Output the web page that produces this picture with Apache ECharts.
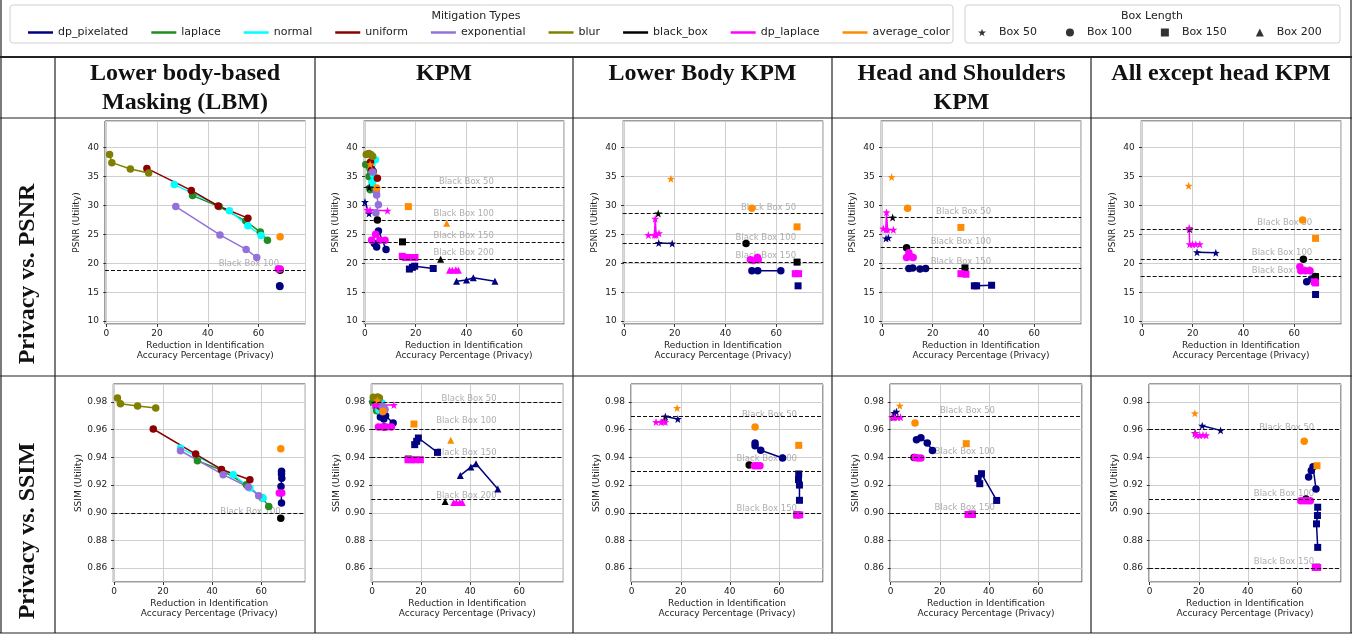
<!DOCTYPE html>
<html><head><meta charset="utf-8">
<script src="https://cdn.jsdelivr.net/npm/echarts@6/dist/echarts.min.js"></script>
<style>html,body{margin:0;padding:0;background:#fff}#chart{width:1367px;height:635px}</style>
</head><body><div id="chart"></div><script>
// ---- Legend / category definitions ----
const methods = ['dp_pixelated','laplace','normal','uniform','exponential','blur','black_box','dp_laplace','average_color'];
const methodColors = ['#000080','#228b22','#00ffff','#8b0000','#9370db','#808000','#000000','#ff00ff','#ff8c00'];
const boxLabels = ['Box 50','Box 100','Box 150','Box 200'];
const columnTitles = [['Lower body-based','Masking (LBM)'],['KPM'],['Lower Body KPM'],['Head and Shoulders','KPM'],['All except head KPM']];
const rowTitles = ['Privacy vs. PSNR','Privacy vs. SSIM'];
const yAxisNames = ['PSNR (Utility)','SSIM (Utility)'];
const xAxisName = 'Reduction in Identification\nAccuracy Percentage (Privacy)';

// ---- Data: [method, box length, [[privacy, utility], ...]] ----
const lbmPsnr = [
  ['dp_pixelated',100,[[68.3,16.1],[68.4,16.0]]],
  ['laplace',100,[[34.0,31.7],[44.5,29.8],[55.0,27.3],[60.7,25.4],[63.5,24.0]]],
  ['normal',100,[[26.8,33.6],[48.5,29.1],[55.8,26.5],[61.0,24.8]]],
  ['uniform',100,[[16.0,36.4],[33.5,32.6],[44.1,29.9],[55.8,27.8]]],
  ['exponential',100,[[27.4,29.8],[44.8,24.9],[55.1,22.4],[59.3,21.0]]],
  ['blur',100,[[1.3,38.8],[2.2,37.4],[9.5,36.3],[16.7,35.6]]],
  ['black_box',100,[[68.5,18.8]]],
  ['dp_laplace',100,[[67.8,19.0],[68.5,19.0]]],
  ['average_color',100,[[68.5,24.6]]]
];
const lbmPsnrRefs = [[100,18.8]];
const lbmPsnrRefLabelX = 68.1;

const kpmPsnr = [
  ['dp_pixelated',50,[[0.0,30.6],[1.6,28.6]]],
  ['dp_pixelated',100,[[3.7,23.4],[4.6,22.8],[5.3,25.6],[8.3,22.4]]],
  ['dp_pixelated',150,[[17.5,19.0],[18.7,19.3],[19.6,19.5],[26.9,19.1]]],
  ['dp_pixelated',200,[[36.1,16.9],[40.0,17.1],[42.7,17.5],[51.2,16.9]]],
  ['laplace',100,[[0.3,37.1],[1.6,35.0],[1.9,33.0],[2.1,32.7]]],
  ['normal',100,[[4.1,37.9],[3.4,35.2],[3.0,34.0],[2.8,33.7]]],
  ['uniform',100,[[2.2,37.5],[2.6,36.3],[3.2,35.9],[4.9,34.7]]],
  ['exponential',100,[[3.0,35.8],[4.5,32.5],[4.6,31.8],[5.3,30.1],[4.3,28.7]]],
  ['blur',100,[[0.5,38.8],[1.5,39.0],[2.3,38.8],[3.0,38.5]]],
  ['black_box',50,[[1.7,33.1]]],
  ['black_box',100,[[4.9,27.5]]],
  ['black_box',150,[[14.8,23.7]]],
  ['black_box',200,[[29.8,20.7]]],
  ['dp_laplace',50,[[1.0,29.2],[2.0,29.2],[8.9,29.1]]],
  ['dp_laplace',100,[[2.6,24.0],[4.2,25.0],[5.9,24.0],[7.9,24.0]]],
  ['dp_laplace',150,[[14.7,21.2],[16.0,21.0],[17.8,21.0],[19.7,21.0]]],
  ['dp_laplace',200,[[33.3,18.8],[34.4,18.8],[35.8,18.9],[36.8,18.8]]],
  ['average_color',50,[[2.0,37.1]]],
  ['average_color',100,[[4.6,33.0]]],
  ['average_color',150,[[17.1,29.8]]],
  ['average_color',200,[[32.2,26.9]]]
];
const kpmPsnrRefs = [[50,33.1],[100,27.5],[150,23.7],[200,20.7]];
const kpmPsnrRefLabelX = 50.8;

const lbkPsnr = [
  ['dp_pixelated',50,[[13.7,23.5],[19.0,23.4]]],
  ['dp_pixelated',100,[[50.4,18.7],[52.7,18.7],[61.8,18.7]]],
  ['dp_pixelated',150,[[68.6,16.1]]],
  ['black_box',50,[[13.5,28.6]]],
  ['black_box',100,[[48.1,23.4]]],
  ['black_box',150,[[68.2,20.2]]],
  ['dp_laplace',50,[[9.6,24.9],[12.0,24.9],[12.3,27.7],[12.7,24.9],[13.8,25.2]]],
  ['dp_laplace',100,[[49.8,20.6],[51.0,20.5],[52.6,21.0],[52.9,20.6]]],
  ['dp_laplace',150,[[67.5,18.2],[68.8,18.2]]],
  ['average_color',50,[[18.5,34.6]]],
  ['average_color',100,[[50.4,29.5]]],
  ['average_color',150,[[68.2,26.3]]]
];
const lbkPsnrRefs = [[50,28.6],[100,23.4],[150,20.2]];
const lbkPsnrRefLabelX = 67.8;

const hsPsnr = [
  ['dp_pixelated',50,[[1.6,24.3],[2.5,24.4]]],
  ['dp_pixelated',100,[[10.6,19.1],[12.1,19.2],[15.0,19.0],[17.2,19.1]]],
  ['dp_pixelated',150,[[36.4,16.1],[37.3,16.1],[43.2,16.2]]],
  ['black_box',50,[[4.2,27.9]]],
  ['black_box',100,[[9.7,22.7]]],
  ['black_box',150,[[32.7,19.2]]],
  ['dp_laplace',50,[[0.5,26.0],[1.5,25.8],[1.8,28.8],[2.2,25.8],[4.5,25.8]]],
  ['dp_laplace',100,[[9.7,21.0],[10.6,21.8],[11.7,21.1],[12.3,21.0]]],
  ['dp_laplace',150,[[31.1,18.2],[33.1,18.1]]],
  ['average_color',50,[[3.8,34.9]]],
  ['average_color',100,[[10.1,29.5]]],
  ['average_color',150,[[31.1,26.2]]]
];
const hsPsnrRefs = [[50,27.9],[100,22.7],[150,19.2]];
const hsPsnrRefLabelX = 43.0;

const aehPsnr = [
  ['dp_pixelated',50,[[21.7,21.9],[29.1,21.8]]],
  ['dp_pixelated',100,[[64.9,16.8],[66.8,17.3],[68.2,17.7]]],
  ['dp_pixelated',150,[[68.4,14.6]]],
  ['black_box',50,[[18.8,25.9]]],
  ['black_box',100,[[63.6,20.7]]],
  ['black_box',150,[[68.4,17.7]]],
  ['dp_laplace',50,[[18.6,26.1],[18.8,23.3],[19.9,23.3],[21.2,23.3],[22.8,23.3]]],
  ['dp_laplace',100,[[62.2,19.4],[62.6,18.7],[64.4,18.7],[66.2,18.7]]],
  ['dp_laplace',150,[[67.9,16.8],[68.4,16.6]]],
  ['average_color',50,[[18.4,33.4]]],
  ['average_color',100,[[63.3,27.5]]],
  ['average_color',150,[[68.4,24.3]]]
];
const aehPsnrRefs = [[50,25.9],[100,20.7],[150,17.7]];
const aehPsnrRefLabelX = 67.1;

const lbmSsim = [
  ['dp_pixelated',100,[[68.3,0.930],[68.3,0.928],[68.4,0.925],[68.1,0.919],[68.3,0.907]]],
  ['laplace',100,[[34.0,0.9376],[43.8,0.9308],[54.0,0.9202],[60.5,0.9106],[63.1,0.9046]]],
  ['normal',100,[[27.1,0.9467],[48.6,0.9275],[55.4,0.9178],[60.8,0.9106]]],
  ['uniform',100,[[16.0,0.9605],[33.3,0.9424],[43.8,0.9313],[55.4,0.9239]]],
  ['exponential',100,[[27.1,0.9448],[44.5,0.9275],[54.7,0.9186],[59.0,0.9123]]],
  ['blur',100,[[1.4,0.9829],[2.6,0.9788],[9.6,0.9771],[17.0,0.9757]]],
  ['black_box',100,[[68.0,0.8961]]],
  ['dp_laplace',100,[[67.4,0.9142],[68.4,0.9142]]],
  ['average_color',100,[[68.0,0.9463]]]
];
const lbmSsimRefs = [[100,0.8961]];
const lbmSsimRefLabelX = 68.0;

const kpmSsim = [
  ['dp_pixelated',50,[[0.1,0.9800],[1.6,0.9775]]],
  ['dp_pixelated',100,[[3.4,0.9692],[4.8,0.9677],[5.5,0.9701],[8.6,0.9648]]],
  ['dp_pixelated',150,[[17.4,0.9492],[18.2,0.9516],[18.9,0.9540],[26.7,0.9436]]],
  ['dp_pixelated',200,[[36.0,0.9270],[40.3,0.9330],[42.4,0.9354],[51.3,0.9171]]],
  ['laplace',100,[[0.3,0.9800],[1.6,0.9775],[1.9,0.9737],[2.1,0.9745]]],
  ['normal',100,[[4.1,0.9793],[3.4,0.9770],[3.0,0.9750],[2.8,0.9742]]],
  ['uniform',100,[[2.2,0.9795],[2.6,0.9782],[3.2,0.9770],[4.9,0.9752]]],
  ['exponential',100,[[3.0,0.9780],[4.5,0.9765],[4.6,0.9755],[5.3,0.9745],[4.3,0.9730]]],
  ['blur',100,[[0.5,0.9835],[1.5,0.9830],[2.3,0.9836],[3.0,0.9828]]],
  ['black_box',50,[[1.7,0.9781]]],
  ['black_box',100,[[4.9,0.9619]]],
  ['black_box',150,[[14.8,0.9388]]],
  ['black_box',200,[[29.8,0.9082]]],
  ['dp_laplace',50,[[1.0,0.9778],[2.0,0.9778],[8.9,0.9778]]],
  ['dp_laplace',100,[[2.6,0.9620],[4.2,0.9620],[5.9,0.9620],[7.9,0.9620]]],
  ['dp_laplace',150,[[14.7,0.9383],[16.0,0.9383],[17.8,0.9383],[19.7,0.9383]]],
  ['dp_laplace',200,[[33.3,0.9075],[34.4,0.9075],[35.8,0.9075],[36.8,0.9075]]],
  ['average_color',50,[[2.2,0.9812]]],
  ['average_color',100,[[4.5,0.9733]]],
  ['average_color',150,[[17.1,0.9641]]],
  ['average_color',200,[[32.1,0.9523]]]
];
const kpmSsimRefs = [[50,0.9781],[100,0.9619],[150,0.9388],[200,0.9082]];
const kpmSsimRefLabelX = 50.8;

const lbkSsim = [
  ['dp_pixelated',50,[[13.7,0.9696],[18.8,0.9677]]],
  ['dp_pixelated',100,[[50.3,0.9504],[50.3,0.9484],[52.6,0.9451],[61.5,0.9395]]],
  ['dp_pixelated',150,[[68.1,0.928],[68.0,0.924],[68.4,0.920],[68.4,0.909]]],
  ['black_box',50,[[13.3,0.9667]]],
  ['black_box',100,[[47.9,0.9345]]],
  ['black_box',150,[[67.4,0.8985]]],
  ['dp_laplace',50,[[9.9,0.9655],[12.0,0.9655],[12.9,0.9660],[13.7,0.9655]]],
  ['dp_laplace',100,[[50.0,0.9340],[51.2,0.9340],[52.3,0.9340]]],
  ['dp_laplace',150,[[67.4,0.8985],[68.5,0.8985]]],
  ['average_color',50,[[18.5,0.9757]]],
  ['average_color',100,[[50.3,0.9619]]],
  ['average_color',150,[[68.1,0.9487]]]
];
const lbkSsimRefs = [[50,0.9663],[100,0.9345],[150,0.8983]];
const lbkSsimRefLabelX = 67.4;

const hsSsim = [
  ['dp_pixelated',50,[[1.4,0.9720],[2.3,0.9730]]],
  ['dp_pixelated',100,[[10.5,0.9528],[12.3,0.9542],[14.9,0.9504],[17.0,0.9450]]],
  ['dp_pixelated',150,[[35.6,0.9248],[36.3,0.9210],[37.0,0.9282],[43.2,0.9089]]],
  ['black_box',50,[[1.0,0.9690]]],
  ['black_box',100,[[9.5,0.9400]]],
  ['black_box',150,[[33.2,0.8990]]],
  ['dp_laplace',50,[[0.5,0.9689],[1.5,0.9689],[2.8,0.9689],[4.0,0.9689]]],
  ['dp_laplace',100,[[9.9,0.9400],[11.0,0.9396],[12.3,0.9396]]],
  ['dp_laplace',150,[[31.5,0.8988],[33.2,0.8988]]],
  ['average_color',50,[[3.7,0.9773]]],
  ['average_color',100,[[9.9,0.9648]]],
  ['average_color',150,[[30.8,0.9499]]]
];
const hsSsimRefs = [[50,0.9692],[100,0.9400],[150,0.8990]];
const hsSsimRefLabelX = 42.5;

const aehSsim = [
  ['dp_pixelated',50,[[21.4,0.9629],[28.9,0.9595]]],
  ['dp_pixelated',100,[[64.8,0.9258],[65.9,0.9306],[66.6,0.9333],[67.8,0.9171]]],
  ['dp_pixelated',150,[[68.5,0.9040],[68.4,0.8980],[68.0,0.8920],[68.5,0.8750]]],
  ['black_box',50,[[18.5,0.9575]]],
  ['black_box',100,[[63.7,0.9099]]],
  ['black_box',150,[[68.0,0.8607]]],
  ['dp_laplace',50,[[18.5,0.9575],[19.0,0.9560],[20.4,0.9560],[21.7,0.9562],[23.0,0.9560]]],
  ['dp_laplace',100,[[61.6,0.9087],[63.0,0.9087],[64.3,0.9087],[65.5,0.9087]]],
  ['dp_laplace',150,[[67.5,0.8605],[68.5,0.8605]]],
  ['average_color',50,[[18.4,0.9718]]],
  ['average_color',100,[[63.0,0.9516]]],
  ['average_color',150,[[68.2,0.9340]]]
];
const aehSsimRefs = [[50,0.9571],[100,0.9092],[150,0.8605]];
const aehSsimRefLabelX = 67.1;

// ---- Panels, row by row ----
const panels = [
  [lbmPsnr, lbmPsnrRefs, lbmPsnrRefLabelX], [kpmPsnr, kpmPsnrRefs, kpmPsnrRefLabelX],
  [lbkPsnr, lbkPsnrRefs, lbkPsnrRefLabelX], [hsPsnr, hsPsnrRefs, hsPsnrRefLabelX],
  [aehPsnr, aehPsnrRefs, aehPsnrRefLabelX],
  [lbmSsim, lbmSsimRefs, lbmSsimRefLabelX], [kpmSsim, kpmSsimRefs, kpmSsimRefLabelX],
  [lbkSsim, lbkSsimRefs, lbkSsimRefLabelX], [hsSsim, hsSsimRefs, hsSsimRefLabelX],
  [aehSsim, aehSsimRefs, aehSsimRefLabelX]
];

// ---- Layout ----
const FONT = 'DejaVu Sans';
const SERIF = 'Liberation Serif';
const rowTop = [121, 384];
const rowHeight = [203, 198];
const colLeft = [[105, 363.7, 622.7, 880.7, 1140.7], [113.3, 371.3, 631, 890, 1149]];
const colWidth = [200.5, 192];
const xRange = [[-0.5, 78.5], [-0.3, 78.0]];
const yRange = [[9.5, 44.6], [0.850, 0.993]];
const yNameGap = [24, 30];
const tableX = [55, 315, 573, 832, 1091, 1351];
const tableY = [57, 118, 376, 633];

function starPath() {
  let p = '';
  for (let i = 0; i < 10; i++) {
    const r = i % 2 ? 0.4 : 1;
    const a = -Math.PI / 2 + i * Math.PI / 5;
    p += (i ? 'L' : 'M') + (50 + 50 * r * Math.cos(a)).toFixed(2) + ',' + (50 + 50 * r * Math.sin(a)).toFixed(2);
  }
  return 'path://' + p + 'Z';
}
const STAR = starPath();
const boxSymbol = {50: STAR, 100: 'circle', 150: 'rect', 200: 'triangle'};
const boxSize = {50: 8, 100: 7.5, 150: 7, 200: 7};

const grids = [], xAxes = [], yAxes = [], series = [];
panels.forEach((pn, idx) => {
  const row = idx < 5 ? 0 : 1, col = idx % 5;
  grids.push({left: colLeft[row][col], top: rowTop[row], width: colWidth[row], height: rowHeight[row],
    show: true, borderColor: '#3a3a3a', borderWidth: 1, containLabel: false});
  xAxes.push({type: 'value', gridIndex: idx, min: xRange[row][0], max: xRange[row][1], splitNumber: 4,
    axisLine: {show: false}, axisTick: {show: true, length: 3, lineStyle: {color: '#333'}},
    axisLabel: {fontFamily: FONT, fontSize: 9, color: '#222', margin: 5, showMinLabel: false, showMaxLabel: false},
    splitLine: {show: true, lineStyle: {color: '#cfcfcf', width: 1}},
    name: xAxisName, nameLocation: 'middle', nameGap: 17,
    nameTextStyle: {fontFamily: FONT, fontSize: 9, lineHeight: 10, color: '#222'}});
  yAxes.push({type: 'value', gridIndex: idx, min: yRange[row][0], max: yRange[row][1], splitNumber: 7,
    axisLine: {show: false}, axisTick: {show: true, length: 3, lineStyle: {color: '#333'}},
    axisLabel: {fontFamily: FONT, fontSize: 9, color: '#222', margin: 6, showMinLabel: false, showMaxLabel: false,
      formatter: v => row ? v.toFixed(2) : String(v)},
    splitLine: {show: true, lineStyle: {color: '#cfcfcf', width: 1}},
    name: yAxisNames[row], nameLocation: 'middle', nameGap: yNameGap[row],
    nameTextStyle: {fontFamily: FONT, fontSize: 9, color: '#222'}});

  const [entries, refs, labelX] = pn;
  // Reference (black box) levels: dashed line plus grey caption
  series.push({type: 'scatter', xAxisIndex: idx, yAxisIndex: idx, z: 1, silent: true, animation: false,
    data: refs.map(r => [labelX, r[1], 'Black Box ' + r[0]]),
    symbolSize: 1, itemStyle: {color: 'rgba(0,0,0,0)'},
    label: {show: true, position: 'top', distance: 1, align: 'right', formatter: p => p.value[2],
      color: '#9a9a9a', fontFamily: FONT, fontSize: 8.5},
    markLine: {silent: true, symbol: ['none', 'none'], label: {show: false}, animation: false,
      lineStyle: {type: [4, 2], color: '#111', width: 1},
      data: refs.map(r => ({yAxis: r[1]}))}});
  entries.forEach(([m, box, pts]) => {
    const c = methodColors[methods.indexOf(m)];
    series.push({type: 'line', name: m, xAxisIndex: idx, yAxisIndex: idx, z: 3, silent: true, animation: false,
      data: pts, symbol: boxSymbol[box], symbolSize: boxSize[box], showSymbol: true, showAllSymbol: true,
      itemStyle: {color: c}, lineStyle: {color: c, width: 1.5}, emphasis: {disabled: true}});
  });
});
// Entries for the box length legend
boxLabels.forEach(b => series.push({type: 'scatter', name: b, xAxisIndex: 0, yAxisIndex: 0, data: [],
  itemStyle: {color: '#000'}}));

// ---- Table frame, headers and row titles ----
const graphic = [];
const lineEl = (x1, y1, x2, y2, w) => ({type: 'line', silent: true,
  shape: {x1, y1, x2, y2}, style: {stroke: '#222', lineWidth: w}});
tableY.forEach((y, i) => graphic.push(lineEl(0, y, 1352, y, i === 0 ? 2 : 1.2)));
tableX.forEach((x, i) => graphic.push(lineEl(x, i === tableX.length - 1 ? 0 : 57, x, 633, 1.2)));
graphic.push(lineEl(1, 0, 1, 633, 1.2));
graphic.push({type: 'rect', silent: true, shape: {x: 10, y: 5, width: 943, height: 38, r: 3},
  style: {fill: '#fff', stroke: '#d0d0d0', lineWidth: 1}});
graphic.push({type: 'rect', silent: true, shape: {x: 965, y: 5, width: 375, height: 38, r: 3},
  style: {fill: '#fff', stroke: '#d0d0d0', lineWidth: 1}});
graphic.push({type: 'text', silent: true, style: {x: 476, y: 16, text: 'Mitigation Types', fontFamily: FONT,
  fontSize: 11, fill: '#222', textAlign: 'center', textVerticalAlign: 'middle'}});
graphic.push({type: 'text', silent: true, style: {x: 1152, y: 16, text: 'Box Length', fontFamily: FONT,
  fontSize: 11, fill: '#222', textAlign: 'center', textVerticalAlign: 'middle'}});
columnTitles.forEach((lines, i) => {
  const cx = (tableX[i] + tableX[i + 1]) / 2;
  lines.forEach((t, j) => graphic.push({type: 'text', silent: true, style: {x: cx, y: 74 + j * 29, text: t,
    fontFamily: SERIF, fontWeight: 'bold', fontSize: 24, fill: '#111', textAlign: 'center', textVerticalAlign: 'middle'}}));
});
rowTitles.forEach((t, i) => graphic.push({type: 'text', silent: true, rotation: Math.PI / 2, x: 28,
  y: i ? 531 : 274, style: {x: 0, y: 0, text: t, fontFamily: SERIF, fontWeight: 'bold', fontSize: 24, fill: '#111',
  textAlign: 'center', textVerticalAlign: 'middle'}}));

const chart = echarts.init(document.getElementById('chart'), null, {renderer: 'canvas'});
chart.setOption({
  backgroundColor: '#fff',
  animation: false,
  graphic: graphic,
  grid: grids, xAxis: xAxes, yAxis: yAxes,
  legend: [
    {data: methods, selectedMode: false, icon: 'rect', itemWidth: 25, itemHeight: 2.5, itemGap: 23,
      left: 28, top: 27, padding: 0, z: 10,
      textStyle: {fontFamily: FONT, fontSize: 11, color: '#222'}},
    {data: [{name: 'Box 50', icon: STAR}, {name: 'Box 100', icon: 'circle'},
            {name: 'Box 150', icon: 'rect'}, {name: 'Box 200', icon: 'triangle'}],
      selectedMode: false, itemWidth: 8, itemHeight: 8, itemGap: 29, left: 978, top: 27, padding: 0, z: 10,
      textStyle: {fontFamily: FONT, fontSize: 11, color: '#222', padding: [0, 0, 0, 8]}}
  ],
  series: series
});
</script></body></html>
